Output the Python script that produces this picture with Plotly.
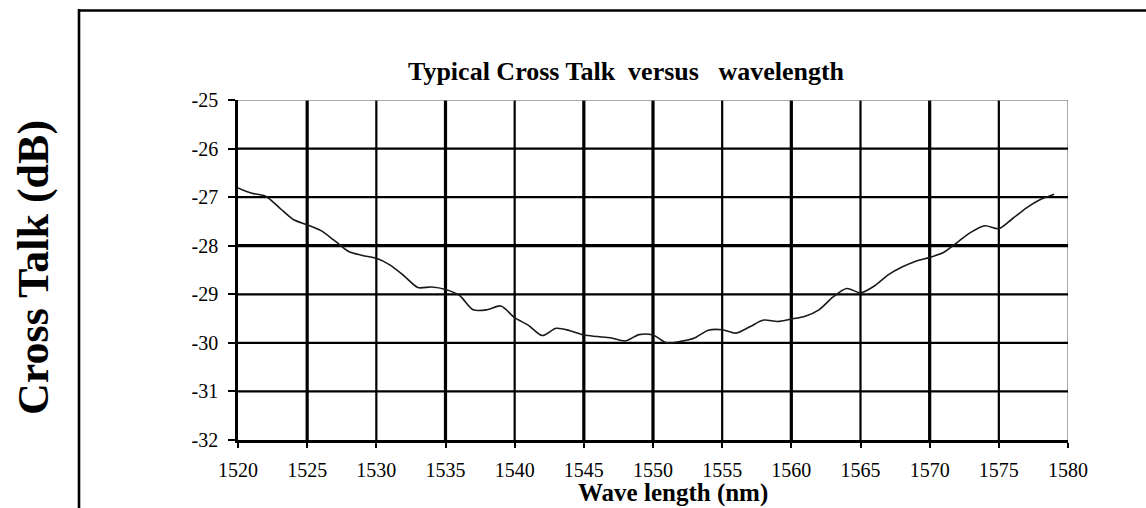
import plotly.graph_objects as go

# ---- data ----
wavelength_nm = [1520, 1521, 1522, 1523, 1524, 1525, 1526, 1527, 1528, 1529,
                 1530, 1531, 1532, 1533, 1534, 1535, 1536, 1537, 1538, 1539,
                 1540, 1541, 1542, 1543, 1544, 1545, 1546, 1547, 1548, 1549,
                 1550, 1551, 1552, 1553, 1554, 1555, 1556, 1557, 1558, 1559,
                 1560, 1561, 1562, 1563, 1564, 1565, 1566, 1567, 1568, 1569,
                 1570, 1571, 1572, 1573, 1574, 1575, 1576, 1577, 1578, 1579]
cross_talk_db = [-26.81, -26.92, -26.98, -27.22, -27.46, -27.57, -27.69, -27.90, -28.12, -28.20,
                 -28.26, -28.40, -28.62, -28.86, -28.85, -28.90, -29.02, -29.32, -29.32, -29.24,
                 -29.48, -29.64, -29.85, -29.70, -29.75, -29.84, -29.87, -29.90, -29.96, -29.83,
                 -29.84, -30.00, -29.97, -29.90, -29.74, -29.73, -29.80, -29.67, -29.53, -29.56,
                 -29.51, -29.45, -29.32, -29.06, -28.88, -28.97, -28.83, -28.60, -28.44, -28.32,
                 -28.24, -28.14, -27.93, -27.72, -27.59, -27.65, -27.44, -27.22, -27.05, -26.94]
x_ticks = [1520, 1525, 1530, 1535, 1540, 1545, 1550, 1555, 1560, 1565, 1570, 1575, 1580]
y_ticks = [-25, -26, -27, -28, -29, -30, -31, -32]
x_thick = [1525, 1535, 1545, 1550, 1560, 1570]
y_thick = [-28]

title_text = "Typical\u00a0Cross Talk\u00a0\u00a0versus\u00a0\u00a0\u00a0wavelength"
x_title = "Wave length (nm)"
y_title = "Cross Talk (dB)"

SERIF = "Liberation Serif, Times New Roman, serif"
W, H = 1146, 508
L, R, T, B = 238, 78, 100, 68
pw, ph = W - L - R, H - T - B

fig = go.Figure()
fig.add_trace(go.Scatter(
    x=wavelength_nm, y=cross_talk_db, mode="lines",
    line=dict(color="#1a1a1a", width=1.6, shape="spline", smoothing=0.8),
    hoverinfo="x+y", showlegend=False))

shapes = []
# vertical grid lines
for xv in x_ticks[1:]:
    if xv == x_ticks[-1]:
        shapes.append(dict(type="line", xref="x", yref="y", x0=xv, x1=xv,
                           y0=y_ticks[-1], y1=y_ticks[0], line=dict(color="#8c8c8c", width=1.5), layer="below"))
    else:
        shapes.append(dict(type="line", xref="x", yref="y", x0=xv, x1=xv,
                           y0=y_ticks[-1], y1=y_ticks[0],
                           line=dict(color="black", width=3.2 if xv in x_thick else 2.2), layer="below"))
# horizontal grid lines
for yv in y_ticks[:-1]:
    if yv == y_ticks[0]:
        shapes.append(dict(type="line", xref="x", yref="y", x0=x_ticks[0], x1=x_ticks[-1],
                           y0=yv, y1=yv, line=dict(color="#8c8c8c", width=1.5), layer="below"))
    else:
        shapes.append(dict(type="line", xref="x", yref="y", x0=x_ticks[0], x1=x_ticks[-1],
                           y0=yv, y1=yv,
                           line=dict(color="black", width=3.2 if yv in y_thick else 2.2), layer="below"))

def px_to_paper_x(px):
    return (px - L) / pw

def px_to_paper_y(py):
    return (H - B - py) / ph

# outer frame (left and top border of the page box)
shapes.append(dict(type="line", xref="paper", yref="paper",
                   x0=px_to_paper_x(79), x1=px_to_paper_x(79),
                   y0=px_to_paper_y(9), y1=px_to_paper_y(520),
                   line=dict(color="black", width=2.6)))
shapes.append(dict(type="line", xref="paper", yref="paper",
                   x0=px_to_paper_x(78), x1=px_to_paper_x(1160),
                   y0=px_to_paper_y(10.5), y1=px_to_paper_y(10.5),
                   line=dict(color="black", width=2.6)))

annotations = [
    dict(text="<b>" + title_text + "</b>", xref="paper", yref="paper",
         x=px_to_paper_x(626), y=px_to_paper_y(71), xanchor="center", yanchor="middle",
         showarrow=False, font=dict(family=SERIF, size=26, color="black")),
    dict(text="<b>" + x_title + "</b>", xref="paper", yref="paper",
         x=px_to_paper_x(673), y=px_to_paper_y(493), xanchor="center", yanchor="middle",
         showarrow=False, font=dict(family=SERIF, size=25, color="black")),
    dict(text="<b>" + y_title + "</b>", xref="paper", yref="paper",
         x=px_to_paper_x(33), y=px_to_paper_y(268), xanchor="center", yanchor="middle",
         textangle=-90, showarrow=False, font=dict(family=SERIF, size=44, color="black")),
]

fig.update_layout(
    width=W, height=H,
    margin=dict(l=L, r=R, t=T, b=B, pad=0),
    paper_bgcolor="white", plot_bgcolor="white",
    shapes=shapes, annotations=annotations,
    font=dict(family=SERIF, color="black"),
    xaxis=dict(range=[x_ticks[0], x_ticks[-1]], tickvals=x_ticks, ticktext=[str(v) for v in x_ticks],
               showgrid=False, zeroline=False, showline=True, linecolor="black", linewidth=2.6,
               ticks="outside", ticklen=5, tickwidth=2.2, tickcolor="black",
               tickfont=dict(family=SERIF, size=20, color="black"), ticklabelstandoff=5),
    yaxis=dict(range=[y_ticks[-1], y_ticks[0]], tickvals=y_ticks, ticktext=[str(v) for v in y_ticks],
               showgrid=False, zeroline=False, showline=True, linecolor="black", linewidth=2.6,
               ticks="outside", ticklen=7, tickwidth=2.2, tickcolor="black",
               tickfont=dict(family=SERIF, size=20, color="black"), ticklabelstandoff=6),
)

fig.write_html("out.html", config={"displayModeBar": False},
               post_script="document.body.style.margin='0';document.body.style.overflow='hidden';")
